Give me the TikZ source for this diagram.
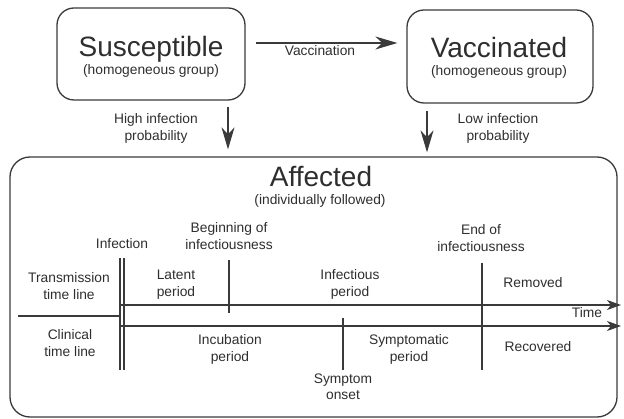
\documentclass[tikz,border=0pt]{standalone}
\usepackage{fontspec}
\setmainfont{Liberation Sans}
\usetikzlibrary{arrows.meta}

\definecolor{inkline}{HTML}{3A3A3A}
\definecolor{inktext}{HTML}{2E2E2E}

\begin{document}
\begin{tikzpicture}[x=1pt,y=-1pt,
        groupbox/.style={draw=inkline,line width=1.3pt,rounded corners=17pt,inner sep=0pt},
        bigtitle/.style={text=inktext,anchor=base,font=\fontsize{28}{30}\selectfont},
        lbl/.style={text=inktext,anchor=base,align=center,inner sep=0pt,font=\fontsize{13.8}{17}\selectfont},
        tline/.style={draw=inkline,line width=1.2pt},
        bigarrow/.style={tline,-{Stealth[length=22pt,width=13pt,inset=7pt]}},
        timearrow/.style={tline,-{Stealth[length=14pt,width=10pt,inset=4pt]}}]
        \useasboundingbox (0,0) rectangle (624,419);

        % the three groups
        \node[groupbox,minimum width=188pt,minimum height=92pt] (sus) at (151,54) {};
        \node[groupbox,minimum width=186pt,minimum height=93pt] (vac) at (500,56.5) {};
        \node[groupbox,rounded corners=20pt,minimum width=607pt,minimum height=260pt] (aff) at (313.5,287) {};

        \node[bigtitle] (susname) at (151,57) {Susceptible};
        \node[lbl] (susgroup) at (151,75) {(homogeneous group)};
        \node[bigtitle] (vacname) at (499,58) {Vaccinated};
        \node[lbl] (vacgroup) at (499,76) {(homogeneous group)};
        \node[bigtitle] (affname) at (321,187) {Affected};
        \node[lbl] (affwho) at (320,205) {(individually followed)};

        % flows between the groups
        \draw[bigarrow,shorten <=10pt,shorten >=9pt] ([yshift=11pt]sus.east) -- ([yshift=11pt]sus.east -| vac.west);
        \node[lbl] (vaclbl) at (320,56) {Vaccination};
        \draw[bigarrow,shorten <=6pt,shorten >=7pt] ([xshift=77pt]sus.south) -- ([xshift=77pt]sus.south |- aff.north);
        \node[lbl] (highlbl) at (156,141) {High infection\\probability};
        \draw[bigarrow,shorten <=7pt,shorten >=4pt] ([xshift=-73pt]vac.south) -- ([xshift=-73pt]vac.south |- aff.north);
        \node[lbl] (lowlbl) at (498,141) {Low infection\\probability};

        % time lines
        \coordinate (inftop) at (120,258);
        \coordinate (infbot) at (120,370);
        \coordinate (inftop2) at (124,258);
        \coordinate (infbot2) at (124,370);
        \coordinate (leftend) at (18,316);
        \coordinate (transstart) at (120,305);
        \coordinate (transend) at (621,305);
        \coordinate (clinstart) at (120,326);
        \coordinate (clinend) at (621,326);
        \draw[tline] (inftop) -- (infbot);
        \draw[tline] (inftop2) -- (infbot2);
        \draw[tline] (leftend) -- (leftend -| inftop);
        \draw[timearrow] (transstart) -- (transend);
        \draw[timearrow] (clinstart) -- (clinend);

        \coordinate (begtop) at (229,260);
        \coordinate (begbot) at (229,313);
        \coordinate (onsettop) at (343,318);
        \coordinate (onsetbot) at (343,370);
        \coordinate (endtop) at (482,263);
        \coordinate (endbot) at (482,370);
        \draw[tline] (begtop) -- (begbot);
        \draw[tline] (onsettop) -- (onsetbot);
        \draw[tline] (endtop) -- (endbot);

        % labels on the time lines
        \node[lbl] (infection) at (122,249) {Infection};
        \node[lbl] (beginning) at (229,250) {Beginning of\\infectiousness};
        \node[lbl] (ending) at (481,252) {End of\\infectiousness};
        \node[lbl] (translbl) at (69,300) {Transmission\\time line};
        \node[lbl] (clinlbl) at (70,357) {Clinical\\time line};
        \node[lbl] (latent) at (176,297) {Latent\\period};
        \node[lbl] (infectious) at (350,297) {Infectious\\period};
        \node[lbl] (removed) at (533,288) {Removed};
        \node[lbl] (timelbl) at (587,318) {Time};
        \node[lbl] (incubation) at (230,362) {Incubation\\period};
        \node[lbl] (symptomatic) at (409,362) {Symptomatic\\period};
        \node[lbl] (recovered) at (538,352) {Recovered};
        \node[lbl] (onset) at (343,400) {Symptom\\onset};
    \end{tikzpicture}
\end{document}
